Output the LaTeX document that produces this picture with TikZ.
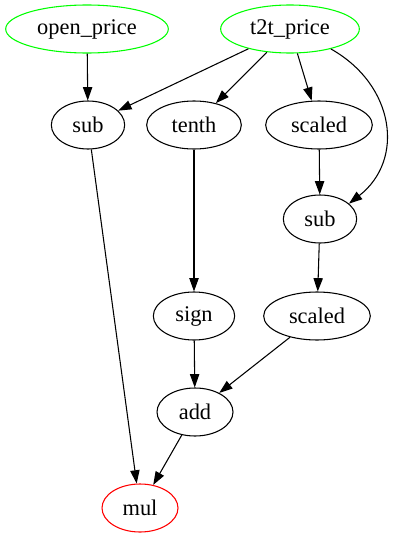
\documentclass[tikz,border=0pt]{standalone}
\usepackage{fontspec}
\setmainfont{Liberation Serif}
\usetikzlibrary{arrows.meta, shapes.geometric}
\definecolor{inputc}{HTML}{00FF00}
\definecolor{outputc}{HTML}{FF0000}
\begin{document}
\begin{tikzpicture}[
  x=0.75pt, y=-0.75pt,
  op/.style={draw, ellipse, minimum height=36pt, inner sep=0pt,
             font=\fontsize{16.8}{18}\selectfont, line width=0.8pt},
  input/.style={op, draw=inputc},
  output/.style={op, draw=outputc},
  arrow/.style={-{Triangle[length=10pt, width=7pt]}, line width=0.8pt}
]
\useasboundingbox (0,0) rectangle (400,539);

\node[input, minimum width=122pt] (open) at (87,29) {open\_price};
\node[input, minimum width=104pt] (t2t) at (290,29) {t2t\_price};

\node[op, minimum width=55pt] (subA) at (88,125) {sub};
\node[op, minimum width=71pt] (tenth) at (194,125) {tenth};
\node[op, minimum width=80pt] (scaledA) at (319,125) {scaled};

\node[op, minimum width=55pt] (subB) at (320,219) {sub};

\node[op, minimum width=61pt] (sign) at (194,316) {sign};
\node[op, minimum width=80pt] (scaledB) at (317,316) {scaled};

\node[op, minimum width=57pt] (add) at (195,412) {add};

\node[output, minimum width=57pt] (mul) at (140,508) {mul};

\draw[arrow] (open) -- (subA);
\draw[arrow] (t2t) -- (subA);
\draw[arrow] (t2t) -- (tenth);
\draw[arrow] (t2t) -- (scaledA);
\draw[arrow] (t2t.-26) .. controls (395,85) and (405,160) .. (subB.28);
\draw[arrow] (scaledA) -- (subB);
\draw[arrow] (tenth) -- (sign);
\draw[arrow] (subB) -- (scaledB);
\draw[arrow] (sign) -- (add);
\draw[arrow] (scaledB) -- (add);
\draw[arrow] (subA) -- (mul);
\draw[arrow] (add) -- (mul);

\end{tikzpicture}
\end{document}
